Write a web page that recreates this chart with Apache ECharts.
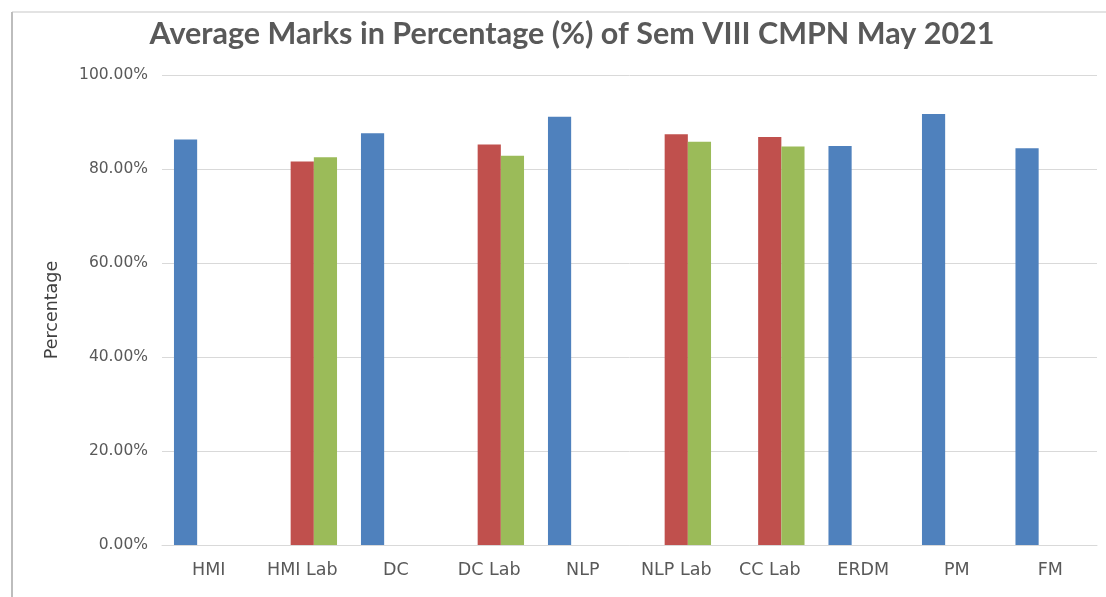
<!DOCTYPE html>
<html>
<head>
<meta charset="utf-8">
<style>
  html, body { margin: 0; padding: 0; background: #ffffff; }
  #chart { width: 1106px; height: 597px; }
</style>
<script src="https://cdn.jsdelivr.net/npm/echarts@6/dist/echarts.min.js"></script>
</head>
<body>
<div id="chart"></div>
<script>
const titleText = 'Average Marks in Percentage (%) of Sem VIII CMPN May 2021';
const categories = ['HMI', 'HMI Lab', 'DC', 'DC Lab', 'NLP', 'NLP Lab', 'CC Lab', 'ERDM', 'PM', 'FM'];
const theoryValues = [86.3, null, 87.6, null, 91.1, null, null, 84.9, 91.7, 84.4];
const termWorkValues = [null, 81.6, null, 85.2, null, 87.4, 86.8, null, null, null];
const oralValues = [null, 82.5, null, 82.8, null, 85.8, 84.8, null, null, null];
const yTicks = { min: 0, max: 100, interval: 20 };

const chart = echarts.init(document.getElementById('chart'));
const textColor = '#595959';
chart.setOption({
  animation: false,
  title: {
    text: titleText,
    left: 567,
    textAlign: 'center',
    top: 14,
    textStyle: { fontFamily: 'Lato', fontWeight: 'bold', fontSize: 30.5, color: textColor }
  },
  graphic: [
    { type: 'line', shape: { x1: 12, y1: 12, x2: 1106, y2: 12 }, style: { stroke: '#e3e3e3', lineWidth: 2 } },
    { type: 'line', shape: { x1: 12, y1: 12, x2: 12, y2: 597 }, style: { stroke: '#bdbdbd', lineWidth: 2 } }
  ],
  grid: { left: 162, right: 9, top: 75, bottom: 52, containLabel: false },
  xAxis: {
    type: 'category',
    data: categories,
    axisLine: { lineStyle: { color: '#d9d9d9', width: 1 } },
    axisTick: { show: false },
    axisLabel: { color: textColor, fontFamily: 'DejaVu Sans', fontSize: 17.5, margin: 16 }
  },
  yAxis: {
    type: 'value',
    min: yTicks.min,
    max: yTicks.max,
    interval: yTicks.interval,
    name: 'Percentage',
    nameLocation: 'middle',
    nameGap: 101,
    nameTextStyle: { color: '#404040', fontFamily: 'DejaVu Sans', fontSize: 17.5 },
    axisLine: { show: false },
    axisTick: { show: false },
    splitLine: { lineStyle: { color: '#d9d9d9', width: 1 } },
    axisLabel: {
      color: textColor, fontFamily: 'DejaVu Sans', fontSize: 15.5, margin: 14,
      formatter: v => v.toFixed(2) + '%'
    }
  },
  series: [
    { name: 'Theory', type: 'bar', data: theoryValues, itemStyle: { color: '#4F81BD' }, barGap: '0%', barCategoryGap: '25.6%' },
    { name: 'Term Work', type: 'bar', data: termWorkValues, itemStyle: { color: '#C0504D' }, barGap: '0%', barCategoryGap: '25.6%' },
    { name: 'Oral/Practical', type: 'bar', data: oralValues, itemStyle: { color: '#9BBB59' }, barGap: '0%', barCategoryGap: '25.6%' }
  ]
});
</script>
</body>
</html>
